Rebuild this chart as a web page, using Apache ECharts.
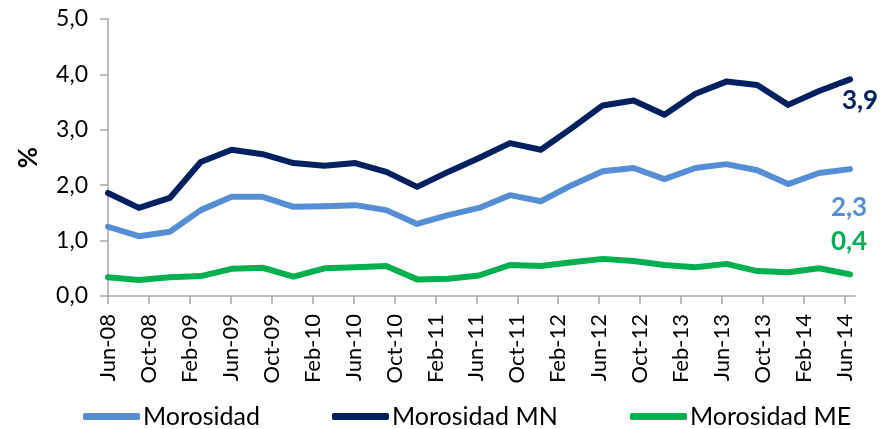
<!DOCTYPE html>
<html>
<head>
<meta charset="utf-8">
<script src="https://cdn.jsdelivr.net/npm/echarts@6/dist/echarts.min.js"></script>
<style>
html,body{margin:0;padding:0;background:#fff;}
#chart{width:885px;height:429px;}
</style>
</head>
<body>
<div id="chart"></div>
<script>
// Quarterly observation dates
var quarters = ['Jun-08','Sep-08','Dec-08','Mar-09','Jun-09','Sep-09','Dec-09','Mar-10','Jun-10','Sep-10','Dec-10','Mar-11','Jun-11','Sep-11','Dec-11','Mar-12','Jun-12','Sep-12','Dec-12','Mar-13','Jun-13','Sep-13','Dec-13','Mar-14','Jun-14'];
var morosidad   = [1.25,1.08,1.16,1.55,1.79,1.79,1.61,1.62,1.64,1.55,1.30,1.46,1.59,1.82,1.71,2.00,2.25,2.31,2.11,2.31,2.38,2.27,2.02,2.22,2.29];
var morosidadMN = [1.86,1.59,1.77,2.42,2.64,2.56,2.40,2.35,2.40,2.24,1.97,2.24,2.49,2.76,2.64,3.03,3.44,3.53,3.27,3.65,3.87,3.81,3.45,3.70,3.91];
var morosidadME = [0.34,0.29,0.34,0.36,0.49,0.51,0.35,0.50,0.52,0.54,0.30,0.31,0.37,0.56,0.54,0.61,0.67,0.63,0.56,0.52,0.58,0.45,0.43,0.50,0.39];
var seriesNames = ['Morosidad','Morosidad MN','Morosidad ME'];
var yTicks = [0,1,2,3,4,5];
// Monthly axis categories (labels every 4 months)
var monthNames = ['Jan','Feb','Mar','Apr','May','Jun','Jul','Aug','Sep','Oct','Nov','Dec'];
var axisMonths = [];
(function(){
  var m = 5, y = 8;
  for (var i = 0; i < 74; i++) {
    axisMonths.push(monthNames[m] + '-' + (y < 10 ? '0' + y : '' + y));
    m++; if (m > 11) { m = 0; y++; }
  }
})();

var colors = ['#558ED5', '#002060', '#00B050'];
var FONT = 'Lato';
function fmt(v){ return v.toFixed(1).replace('.', ','); }

function buildData(arr, color, offset, bg) {
  return arr.map(function(v, i){
    if (i === arr.length - 1) {
      return {
        value: v,
        label: {
          show: true, position: 'inside', offset: offset,
          formatter: fmt(v), color: color, fontFamily: FONT,
          fontWeight: 'bold', fontSize: 26,
          backgroundColor: bg || 'transparent', padding: bg ? [2,3,0,3] : 0
        }
      };
    }
    return v;
  });
}

function lineSeries(name, arr, color, offset, bg) {
  return {
    name: name, type: 'line', xAxisIndex: 1, yAxisIndex: 1,
    data: buildData(arr, color, offset, bg),
    symbol: 'circle', symbolSize: 1, showSymbol: true,
    itemStyle: { color: color },
    lineStyle: { color: color, width: 6, cap: 'round', join: 'round' },
    emphasis: { disabled: true },
    z: name === 'Morosidad MN' ? 3 : 2
  };
}

var chart = echarts.init(document.getElementById('chart'));
var legendBase = {
  orient: 'horizontal', top: 399, itemWidth: 57, itemHeight: 7, icon: 'roundRect', itemGap: 0,
  textStyle: { fontFamily: FONT, fontSize: 25, color: '#000', padding: [0,0,0,-2] }, selectedMode: false
};
chart.setOption({
  animation: false,
  textStyle: { fontFamily: FONT },
  grid: [
    { left: 108, right: 30, top: 19, bottom: 133 },
    { left: 108, right: 35, top: 19, bottom: 133 }
  ],
  legend: [
    Object.assign({}, legendBase, { left: 78, data: [seriesNames[0]] }),
    Object.assign({}, legendBase, { left: 327, data: [seriesNames[1]] }),
    Object.assign({}, legendBase, { left: 625, data: [seriesNames[2]] })
  ],
  xAxis: [
    {
      type: 'category', gridIndex: 0, data: axisMonths, boundaryGap: false,
      axisLine: { lineStyle: { color: '#A6A6A6', width: 1.5 } },
      axisTick: { show: true, interval: 3, length: 8, lineStyle: { color: '#A6A6A6', width: 1.5 } },
      axisLabel: { interval: 3, rotate: 90, margin: 18, color: '#000', fontFamily: FONT, fontSize: 22, padding: [12,0,0,0] },
      splitLine: { show: false }
    },
    {
      type: 'category', gridIndex: 1, data: quarters, boundaryGap: false, show: false
    }
  ],
  yAxis: [
    {
      type: 'value', gridIndex: 0, min: yTicks[0], max: yTicks[yTicks.length-1], interval: 1,
      name: '%', nameLocation: 'middle', nameGap: 66, nameRotate: 90,
      nameTextStyle: { fontFamily: FONT, fontSize: 26, fontWeight: 'bold', color: '#000' },
      axisLine: { show: true, lineStyle: { color: '#A6A6A6', width: 1.5 } },
      axisTick: { show: true, length: 8, lineStyle: { color: '#A6A6A6', width: 1.5 } },
      axisLabel: { margin: 20, color: '#000', fontFamily: FONT, fontSize: 23, formatter: fmt },
      splitLine: { show: false }
    },
    {
      type: 'value', gridIndex: 1, min: 0, max: 5, show: false
    }
  ],
  series: [
    lineSeries(seriesNames[0], morosidad, colors[0], [-1, 38]),
    lineSeries(seriesNames[1], morosidadMN, colors[1], [10, 21], '#fff'),
    lineSeries(seriesNames[2], morosidadME, colors[2], [-1, -33])
  ]
});
</script>
</body>
</html>
